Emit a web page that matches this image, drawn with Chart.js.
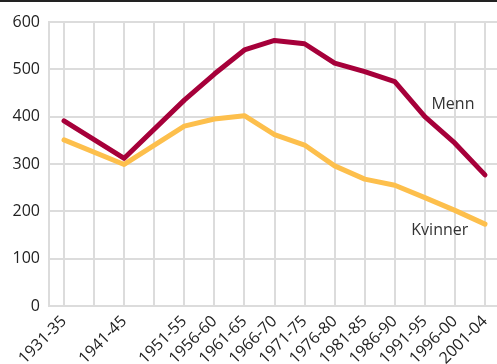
<!DOCTYPE html>
<html><head><meta charset="utf-8">
<script src="https://cdn.jsdelivr.net/npm/chart.js@4"></script>
<style>html,body{margin:0;padding:0;background:#fff}#wrap{width:497px;height:364px;position:relative}</style>
</head><body><div id="wrap"><canvas id="c" width="497" height="364"></canvas></div>
<script>
const categories = ['1931-35','1936-40','1941-45','1946-50','1951-55','1956-60','1961-65','1966-70','1971-75','1976-80','1981-85','1986-90','1991-95','1996-00','2001-04'];
const tickLabels = ['1931-35','','1941-45','','1951-55','1956-60','1961-65','1966-70','1971-75','1976-80','1981-85','1986-90','1991-95','1996-00','2001-04'];
const menn    = [391, null, 312, null, 435, 490, 541, 561, 554, 513, 495, 474, 400, 344, 277];
const kvinner = [351, null, 299, null, 380, 395, 402, 362, 340, 296, 268, 255, 229, 202, 173];
const yTicks = [0,100,200,300,400,500,600];

const toPts = arr => arr.map((v,i)=>({x:i,y:v}));
const FONT = "'Open Sans', 'Noto Sans', sans-serif";

const labelsPlugin = {
  id:'labels',
  afterDraw(chart){
    const ctx = chart.ctx, xs = chart.scales.x, ys = chart.scales.y;
    ctx.save();
    ctx.fillStyle = '#222';
    ctx.fillRect(0,0,chart.width,2);
    ctx.fillStyle = '#333';
    ctx.font = "16px " + FONT;
    ctx.textBaseline = 'middle';
    ctx.textAlign = 'left';
    ctx.fillText('Menn', xs.getPixelForValue(12.22), ys.getPixelForValue(425));
    ctx.fillText('Kvinner', xs.getPixelForValue(11.55), ys.getPixelForValue(160));
    ctx.restore();
  }
};

new Chart(document.getElementById('c'), {
  type:'line',
  data:{ datasets:[
    {label:'Menn', data:toPts(menn), borderColor:'#a6003a', borderWidth:5, pointRadius:0, spanGaps:true, tension:0, borderJoinStyle:'round', borderCapStyle:'round'},
    {label:'Kvinner', data:toPts(kvinner), borderColor:'#fdbf4c', borderWidth:5, pointRadius:0, spanGaps:true, tension:0, borderJoinStyle:'round', borderCapStyle:'round'}
  ]},
  options:{
    responsive:false, animation:false, devicePixelRatio:1,
    layout:{padding:{top:22,left:0,right:0,bottom:0}},
    plugins:{legend:{display:false}, tooltip:{enabled:false}},
    scales:{
      x:{
        type:'linear', min:-0.5, max:14.4,
        afterBuildTicks(s){ s.ticks = categories.map((c,i)=>({value:i})); },
        afterFit(s){ s.height = 58; s.paddingLeft = 0; s.paddingRight = 0; },
        ticks:{ callback:(v)=>tickLabels[v] ?? '', maxRotation:45, minRotation:45, autoSkip:false, color:'#222', font:{size:16, family:FONT}, padding:6 },
        grid:{ color:'#dcdcdc', lineWidth:2, drawTicks:false },
        border:{ color:'#dcdcdc', width:2 }
      },
      y:{
        min:0, max:600,
        afterBuildTicks(s){ s.ticks = yTicks.map(v=>({value:v})); },
        afterFit(s){ s.width = 49; },
        ticks:{ color:'#222', font:{size:16, family:FONT}, padding:9 },
        grid:{ color:'#dcdcdc', lineWidth:2, drawTicks:false },
        border:{ color:'#dcdcdc', width:2 }
      }
    }
  },
  plugins:[labelsPlugin]
});
</script></body></html>
